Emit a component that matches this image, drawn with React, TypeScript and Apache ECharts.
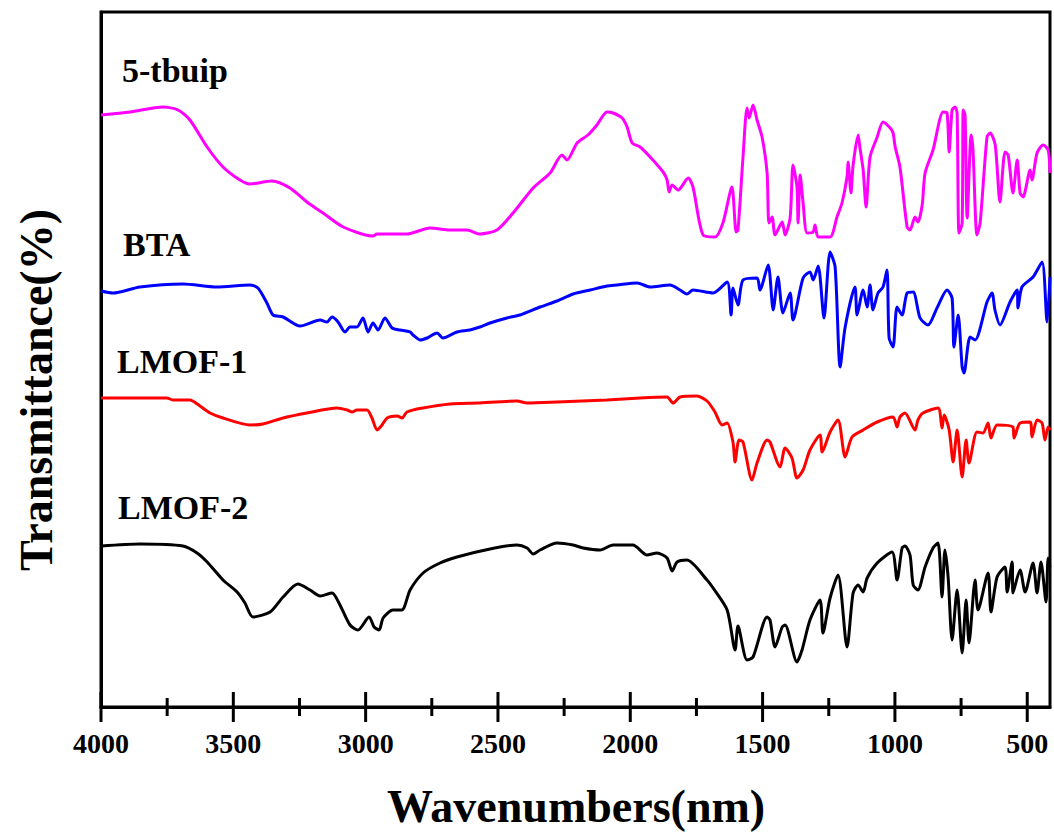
import React, { useEffect, useRef } from "react";
import * as echarts from "echarts";

const xMin = 414;
const xMax = 4000;
const majorTicks = [4000, 3500, 3000, 2500, 2000, 1500, 1000, 500];
const minorTicks = [3750, 3250, 2750, 2250, 1750, 1250, 750];
const seriesNames = ["5-tbuip", "BTA", "LMOF-1", "LMOF-2"];
const seriesColors = ["#ff00ff", "#0000ff", "#ff0000", "#000000"];
const xTitle = "Wavenumbers(nm)";
const yTitle = "Transmittance(%)";

// [wavenumber, relative transmittance (arbitrary offset units)]
const tbuip = [
  [4000, 592], [3890, 595], [3766, 600], [3709, 597], [3664, 587], [3599, 560], [3539, 540],
  [3475, 527], [3437, 523], [3354, 526], [3286, 519], [3222, 505], [3161, 494], [3085, 480],
  [2972, 471], [2957, 473], [2844, 473], [2757, 479], [2681, 477], [2617, 477], [2568, 473],
  [2504, 477], [2443, 494], [2367, 519], [2303, 534], [2258, 552], [2239, 547], [2201, 564],
  [2160, 572], [2126, 582], [2088, 595], [2065, 594], [2031, 589], [2012, 580], [1993, 564],
  [1963, 560], [1925, 550], [1876, 535], [1861, 527], [1853, 515], [1842, 522], [1819, 517],
  [1781, 529], [1763, 520], [1725, 472], [1680, 470], [1650, 484], [1616, 520], [1600, 475],
  [1593, 477], [1574, 550], [1559, 599], [1551, 589], [1536, 602], [1521, 587], [1502, 570],
  [1483, 534], [1476, 484], [1464, 490], [1453, 472], [1426, 485], [1415, 472], [1396, 489],
  [1385, 542], [1370, 520], [1366, 484], [1358, 532], [1347, 504], [1332, 474], [1309, 475],
  [1302, 482], [1290, 470], [1245, 470], [1219, 490], [1200, 504], [1181, 530], [1177, 545],
  [1166, 514], [1158, 542], [1139, 572], [1132, 559], [1120, 537], [1109, 500], [1094, 550],
  [1067, 570], [1045, 585], [1018, 579], [1007, 574], [999, 560], [981, 540], [954, 480],
  [943, 477], [924, 490], [913, 485], [897, 502], [886, 534], [856, 557], [818, 595],
  [803, 594], [795, 555], [784, 597], [773, 600], [765, 594], [758, 474], [746, 484],
  [742, 597], [735, 592], [727, 489], [712, 572], [705, 557], [690, 472], [678, 484],
  [652, 570], [640, 574], [621, 562], [603, 505], [584, 555], [572, 552], [554, 514],
  [538, 547], [527, 514], [516, 510], [489, 537], [482, 527], [463, 554], [440, 562],
  [421, 557], [414, 534],
];

const bta = [
  [4000, 416], [3955, 414], [3853, 420], [3690, 423], [3562, 420], [3437, 422], [3407, 419],
  [3373, 404], [3350, 392], [3312, 390], [3248, 381], [3172, 387], [3146, 385], [3127, 390],
  [3104, 385], [3078, 375], [3059, 380], [3033, 380], [3010, 389], [2991, 375], [2972, 384],
  [2953, 377], [2927, 389], [2900, 379], [2870, 377], [2832, 375], [2821, 372], [2794, 367],
  [2768, 369], [2730, 374], [2708, 369], [2655, 375], [2606, 377], [2568, 380], [2530, 384],
  [2466, 389], [2417, 392], [2341, 400], [2277, 406], [2216, 413], [2152, 417], [2088, 421],
  [2050, 422], [1974, 424], [1925, 420], [1850, 422], [1812, 417], [1786, 413], [1763, 417],
  [1687, 414], [1634, 425], [1619, 392], [1612, 419], [1593, 402], [1574, 427], [1521, 429],
  [1510, 417], [1479, 442], [1460, 397], [1442, 430], [1423, 394], [1396, 414], [1385, 387],
  [1347, 429], [1321, 435], [1309, 427], [1290, 441], [1268, 389], [1245, 455], [1226, 440],
  [1207, 340], [1188, 380], [1151, 420], [1143, 392], [1120, 417], [1105, 400], [1094, 422],
  [1083, 397], [1064, 414], [1045, 420], [1030, 437], [1022, 369], [1007, 360], [992, 400],
  [973, 392], [954, 414], [931, 415], [905, 389], [875, 382], [841, 399], [803, 417],
  [784, 409], [777, 360], [761, 392], [746, 340], [739, 334], [716, 370], [697, 367],
  [652, 405], [633, 414], [622, 397], [603, 382], [565, 405], [538, 417], [535, 399],
  [520, 420], [478, 430], [444, 445], [425, 385], [414, 430],
];

const lmof1 = [
  [4000, 309], [3853, 309], [3751, 309], [3728, 307], [3664, 307], [3626, 301], [3588, 294],
  [3539, 289], [3437, 282], [3388, 283], [3312, 289], [3222, 294], [3108, 299], [3070, 297],
  [3051, 295], [3033, 297], [2995, 297], [2976, 289], [2957, 277], [2938, 282], [2919, 289],
  [2881, 291], [2862, 289], [2844, 295], [2783, 299], [2681, 303], [2579, 304], [2428, 306],
  [2390, 304], [2277, 305], [2088, 307], [1963, 309], [1861, 310], [1838, 304], [1812, 310],
  [1748, 311], [1710, 306], [1680, 295], [1653, 282], [1634, 284], [1612, 265], [1604, 245],
  [1589, 267], [1574, 265], [1540, 227], [1521, 244], [1483, 267], [1472, 265], [1434, 240],
  [1415, 259], [1389, 249], [1370, 229], [1347, 237], [1321, 257], [1283, 272], [1275, 255],
  [1245, 275], [1215, 287], [1188, 250], [1162, 270], [1120, 277], [1067, 285], [1007, 290],
  [992, 280], [981, 290], [962, 294], [924, 277], [913, 287], [894, 294], [837, 299],
  [822, 279], [814, 292], [795, 277], [780, 245], [765, 277], [746, 230], [731, 267],
  [720, 244], [690, 275], [667, 274], [648, 284], [637, 269], [614, 282], [554, 280],
  [550, 269], [527, 284], [489, 285], [482, 270], [463, 287], [444, 284], [433, 267],
  [421, 280], [414, 277],
];

const lmof2 = [
  [4000, 161], [3853, 163], [3690, 161], [3637, 154], [3599, 145], [3539, 127], [3486, 115],
  [3456, 104], [3426, 90], [3361, 95], [3312, 110], [3256, 123], [3210, 117], [3172, 111],
  [3127, 114], [3097, 102], [3059, 82], [3029, 77], [2987, 90], [2968, 80], [2949, 77],
  [2934, 89], [2897, 97], [2863, 97], [2832, 117], [2783, 134], [2719, 144], [2655, 150],
  [2530, 158], [2428, 162], [2390, 159], [2367, 153], [2341, 157], [2277, 164], [2216, 162],
  [2178, 159], [2114, 157], [2065, 162], [1990, 162], [1937, 152], [1899, 154], [1861, 149],
  [1842, 136], [1823, 145], [1786, 147], [1710, 127], [1687, 119], [1634, 97], [1604, 57],
  [1593, 81], [1559, 47], [1536, 50], [1483, 90], [1472, 87], [1453, 60], [1426, 80],
  [1415, 82], [1370, 45], [1351, 57], [1321, 87], [1283, 107], [1272, 74], [1245, 109],
  [1215, 132], [1181, 60], [1158, 114], [1139, 122], [1120, 115], [1105, 129], [1067, 144],
  [1011, 155], [992, 127], [973, 159], [962, 161], [943, 152], [931, 122], [913, 117],
  [886, 140], [856, 159], [837, 164], [822, 110], [811, 157], [799, 130], [784, 67],
  [765, 117], [746, 54], [731, 107], [720, 64], [697, 127], [686, 97], [648, 134],
  [637, 95], [614, 130], [584, 140], [576, 115], [557, 145], [554, 114], [527, 137],
  [508, 115], [478, 144], [463, 114], [448, 145], [429, 105], [421, 149], [414, 140],
];

const allData = [tbuip, bta, lmof1, lmof2];

const FONT = "'Liberation Serif', 'Times New Roman', serif";

export default function App() {
  const ref = useRef<HTMLDivElement>(null);
  useEffect(() => {
    if (!ref.current) return;
    const chart = echarts.init(ref.current, null, { renderer: "svg" });
    const labelPos = [
      [122, 70],
      [123, 244],
      [117, 361],
      [118, 507],
    ];
    const frame = { color: "#000", width: 3 };
    chart.setOption({
      animation: false,
      backgroundColor: "#fff",
      grid: {
        left: 101,
        right: 4,
        top: 12,
        bottom: 125,
        show: true,
        borderColor: "#000",
        borderWidth: 3,
        backgroundColor: "transparent",
      },
      xAxis: {
        type: "value",
        min: xMin,
        max: xMax,
        inverse: true,
        position: "bottom",
        axisLine: { show: true, onZero: false, lineStyle: { ...frame } },
        axisTick: { show: false },
        axisLabel: {
          customValues: majorTicks,
          margin: 22,
          formatter: (v: number) => String(v),
          fontFamily: FONT,
          fontWeight: "bold",
          fontSize: 28,
          color: "#000",
        },
        splitLine: { show: false },
      },
      yAxis: {
        type: "value",
        min: 0,
        max: 695,
        axisLine: { show: true, onZero: false, lineStyle: { ...frame } },
        axisTick: { show: false },
        axisLabel: { show: false },
        splitLine: { show: false },
      },
      series: [
        ...allData.map((d, i) => ({
          name: seriesNames[i],
          type: "line",
          data: d,
          showSymbol: false,
          symbol: "none",
          smooth: 0.25,
          lineStyle: { color: seriesColors[i], width: 3 },
          itemStyle: { color: seriesColors[i] },
        })),
        // major and minor ticks along the wavenumber axis
        {
          type: "scatter",
          name: "majorTicks",
          silent: true,
          clip: false,
          z: 10,
          data: majorTicks.map((w) => [w, 0]),
          symbol: "rect",
          symbolSize: [3, 30],
          itemStyle: { color: "#000", opacity: 1 },
        },
        {
          type: "scatter",
          name: "minorTicks",
          silent: true,
          clip: false,
          z: 10,
          data: minorTicks.map((w) => [w, 0]),
          symbol: "rect",
          symbolSize: [3, 18],
          itemStyle: { color: "#000", opacity: 1 },
        },
      ],
      graphic: [
        // white strip hides the upper half of the tick symbols inside the frame
        {
          type: "rect",
          z: 1,
          shape: { x: 103, y: 690, width: 945, height: 15 },
          style: { fill: "#fff" },
          silent: true,
        },
        ...seriesNames.map((n, i) => ({
          type: "text",
          x: labelPos[i][0],
          y: labelPos[i][1],
          style: {
            text: n,
            fill: "#000",
            font: `bold 34px ${FONT}`,
            align: "left",
            verticalAlign: "middle",
          },
        })),
        {
          type: "text",
          x: 576,
          y: 806,
          style: {
            text: xTitle,
            fill: "#000",
            font: `bold 46px ${FONT}`,
            align: "center",
            verticalAlign: "middle",
          },
        },
        {
          type: "text",
          x: 36,
          y: 390,
          rotation: Math.PI / 2,
          style: {
            text: yTitle,
            fill: "#000",
            font: `bold 46px ${FONT}`,
            align: "center",
            verticalAlign: "middle",
          },
        },
      ],
    });
    return () => chart.dispose();
  }, []);
  return (
    <div
      ref={ref}
      style={{ position: "fixed", left: 0, top: 0, width: 1054, height: 832, background: "#fff" }}
    />
  );
}
